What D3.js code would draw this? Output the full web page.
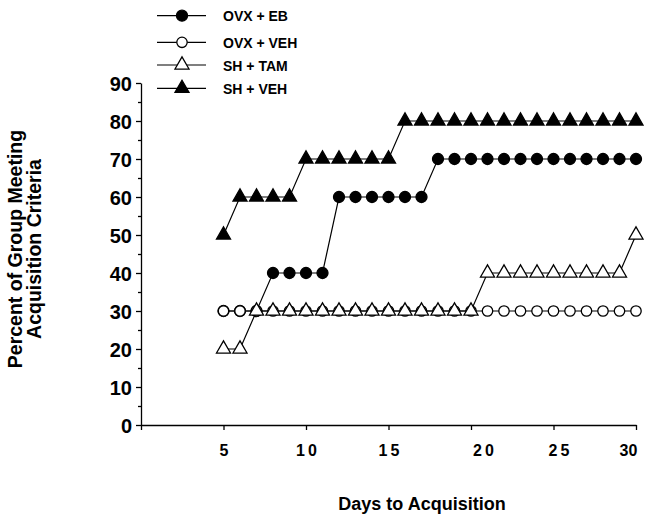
<!DOCTYPE html>
<html>
<head>
<meta charset="utf-8">
<script src="https://cdn.jsdelivr.net/npm/d3@7"></script>
<style>
  body { margin: 0; background: #fff; }
  svg { display: block; font-family: "Liberation Sans", Arial, Helvetica, sans-serif; font-weight: bold; }
  .axis path, .axis line { stroke: #000; stroke-width: 1.3; }
</style>
</head>
<body>
<div id="chart"></div>
<script>
// days on the x axis
const days = [5, 6, 7, 8, 9, 10, 11, 12, 13, 14, 15, 16, 17, 18, 19, 20, 21, 22, 23, 24, 25, 26, 27, 28, 29, 30];

// percent of group meeting criteria, one value per day
const ovxEB = [30, 30, 30, 40, 40, 40, 40, 60, 60, 60, 60, 60, 60, 70, 70, 70, 70, 70, 70, 70, 70, 70, 70, 70, 70, 70];
const ovxVEH = [30, 30, 30, 30, 30, 30, 30, 30, 30, 30, 30, 30, 30, 30, 30, 30, 30, 30, 30, 30, 30, 30, 30, 30, 30, 30];
const shTAM = [20, 20, 30, 30, 30, 30, 30, 30, 30, 30, 30, 30, 30, 30, 30, 30, 40, 40, 40, 40, 40, 40, 40, 40, 40, 50];
const shVEH = [50, 60, 60, 60, 60, 70, 70, 70, 70, 70, 70, 80, 80, 80, 80, 80, 80, 80, 80, 80, 80, 80, 80, 80, 80, 80];

const seriesNames = ["OVX + EB", "OVX + VEH", "SH + TAM", "SH + VEH"];
const xTicks = [0, 5, 10, 15, 20, 25, 30];
const yTicks = [0, 10, 20, 30, 40, 50, 60, 70, 80, 90];
const yMinorTicks = [5, 15, 25, 35, 45, 55, 65, 75, 85];

const width = 646, height = 518;
const svg = d3.select("#chart").append("svg")
  .attr("width", width)
  .attr("height", height);

const x = d3.scaleLinear().domain([0, 30]).range([141, 636]);
const y = d3.scaleLinear().domain([0, 90]).range([425, 83]);

// x axis
const xAxis = svg.append("g")
  .attr("class", "axis")
  .attr("transform", "translate(0," + y(0) + ")")
  .call(d3.axisBottom(x).tickValues(xTicks).tickSize(5).tickSizeOuter(0)
    .tickFormat(d => d === 0 ? "" : d));
// scanned labels sit a bit off their ticks
const labelNudge = { 20: 12, 25: 5, 30: -8 };
xAxis.selectAll("text")
  .attr("fill", "#000")
  .style("font-size", "16px")
  .style("letter-spacing", d => (d >= 10 && d < 30) ? "3px" : "0px")
  .attr("x", d => (labelNudge[d] || 0) + ((d >= 10 && d < 30) ? 1.5 : 0))
  .attr("y", 20);

// y axis
const yAxis = svg.append("g")
  .attr("class", "axis")
  .attr("transform", "translate(" + x(0) + ",0)")
  .call(d3.axisLeft(y).tickValues(yTicks).tickSize(5).tickSizeOuter(0));
yAxis.selectAll("text")
  .attr("fill", "#000")
  .style("font-size", "20px")
  .attr("x", -9)
  .attr("dy", "0.36em");

svg.append("g")
  .attr("class", "axis")
  .attr("transform", "translate(" + x(0) + ",0)")
  .call(d3.axisLeft(y).tickValues(yMinorTicks).tickSize(3).tickFormat(""))
  .select(".domain").remove();

// axis titles
svg.append("text")
  .attr("transform", "translate(22,249) rotate(-90)")
  .attr("text-anchor", "middle")
  .style("font-size", "19.5px")
  .text("Percent of Group Meeting");
svg.append("text")
  .attr("transform", "translate(41,249) rotate(-90)")
  .attr("text-anchor", "middle")
  .style("font-size", "19.5px")
  .text("Acquisition Criteria");
svg.append("text")
  .attr("x", 422)
  .attr("y", 510)
  .attr("text-anchor", "middle")
  .style("font-size", "18px")
  .text("Days to Acquisition");

// marker styles per series
const markers = [
  { type: d3.symbolCircle, size: 95, fill: "#000" },
  { type: d3.symbolCircle, size: 85, fill: "#fff" },
  { type: d3.symbolTriangle, size: 85, fill: "#fff" },
  { type: d3.symbolTriangle, size: 85, fill: "#000" }
];
const allSeries = [ovxEB, ovxVEH, shTAM, shVEH];

const line = d3.line()
  .x((d, i) => x(days[i]))
  .y(d => y(d));

allSeries.forEach((vals, s) => {
  const g = svg.append("g");
  g.append("path")
    .attr("d", line(vals))
    .attr("fill", "none")
    .attr("stroke", "#000")
    .attr("stroke-width", 1.2);
  g.selectAll("path.pt")
    .data(vals)
    .enter()
    .append("path")
    .attr("class", "pt")
    .attr("transform", (d, i) => "translate(" + x(days[i]) + "," + y(d) + ")")
    .attr("d", d3.symbol().type(markers[s].type).size(markers[s].size))
    .attr("fill", markers[s].fill)
    .attr("stroke", "#000")
    .attr("stroke-width", 1.3);
});

// legend
const legendRows = [15.7, 42.3, 65, 88.3];
const legend = svg.append("g");
seriesNames.forEach((name, s) => {
  const ly = legendRows[s];
  legend.append("line")
    .attr("x1", 157).attr("x2", 206)
    .attr("y1", ly).attr("y2", ly)
    .attr("stroke", "#000")
    .attr("stroke-width", 1.2);
  legend.append("path")
    .attr("transform", "translate(182," + ly + ")")
    .attr("d", d3.symbol().type(markers[s].type).size(markers[s].size))
    .attr("fill", markers[s].fill)
    .attr("stroke", "#000")
    .attr("stroke-width", 1.3);
  legend.append("text")
    .attr("x", 223)
    .attr("y", ly + 5.5)
    .style("font-size", "14px")
    .text(name);
});
</script>
</body>
</html>
